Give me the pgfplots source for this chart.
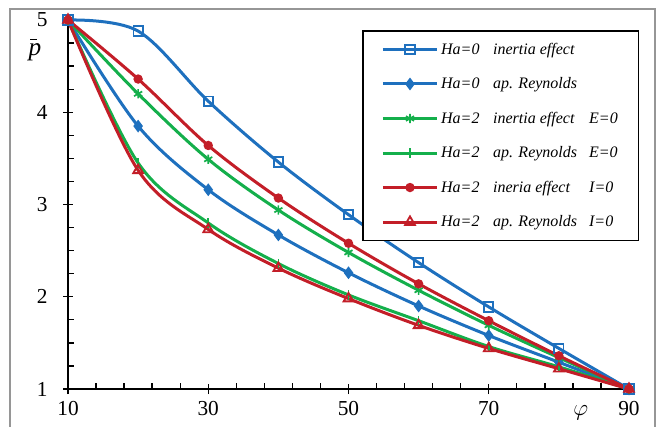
\documentclass[border=0pt]{standalone}
\usepackage{fontspec}
\setmainfont{Liberation Serif}
\usepackage{pgfplots}
\pgfplotsset{compat=1.18}
\definecolor{cblue}{RGB}{30,112,190}
\definecolor{cgreen}{RGB}{20,175,75}
\definecolor{cred}{RGB}{195,30,40}
\definecolor{frame}{RGB}{150,150,150}
\newcommand{\lent}[3]{\makebox[39pt][l]{#1}\makebox[72pt][l]{#2}\makebox[21pt][l]{#3}}
\begin{document}
\begin{tikzpicture}
\path[use as bounding box] (0,0) rectangle (492pt,319.5pt);
\draw[frame, line width=1.5pt] (7.5pt,-5pt) -- (7.5pt,312.75pt) -- (491.25pt,312.75pt) -- (491.25pt,-5pt);
\begin{axis}[
  at={(51pt,27.75pt)}, anchor=south west,
  scale only axis, width=420.75pt, height=276.75pt,
  xmin=10, xmax=90, ymin=1, ymax=5,
  axis lines=left, axis line style={-, line width=1.2pt, black},
  xtick={10,30,50,70,90}, ytick={1,2,3,4,5},
  minor x tick num=4, minor y tick num=3,
  tick align=center,
  major tick length=7.5pt, minor tick length=4.5pt,
  every tick/.style={black, line width=1pt},
  minor x tick style={yshift=2.25pt},
  minor y tick style={xshift=2.25pt},
  /pgf/number format/assume math mode=true,
  tick label style={font=\fontsize{16}{18}\selectfont},
  xticklabel style={yshift=-2pt},
  yticklabel style={xshift=-8pt},
  clip=false,
  legend style={at={(0.524,0.973)}, anchor=north west, draw=black, line width=1.3pt,
    font=\itshape\fontsize{12}{14}\selectfont, row sep=12pt, inner xsep=14pt, inner ysep=7pt},
  legend cell align=left,
  legend image code/.code={\draw[line width=2.25pt, mark repeat=2,mark phase=2] plot coordinates {(0pt,0pt)(20.25pt,0pt)(40.5pt,0pt)};},
  every axis plot/.append style={line width=2.25pt, smooth, tension=0.55},
]
\addplot[cblue, mark=square, mark size=3.5pt, mark options={fill=white, line width=1.4pt}] coordinates {
(10,5)(20,4.88)(30,4.12)(40,3.46)(50,2.89)(60,2.37)(70,1.89)(80,1.44)(90,1.0)};
\addlegendentry{\lent{Ha=0}{inertia effect}{}}
\addplot[cblue, mark=diamond*, mark size=4pt, mark options={line width=1pt}] coordinates {
(10,5)(20,3.85)(30,3.16)(40,2.67)(50,2.26)(60,1.90)(70,1.58)(80,1.29)(90,1)};
\addlegendentry{\lent{Ha=0}{ap. Reynolds}{}}
\addplot[cgreen, mark=asterisk, mark size=3.5pt, mark options={line width=1.3pt}] coordinates {
(10,5)(20,4.20)(30,3.49)(40,2.94)(50,2.48)(60,2.07)(70,1.69)(80,1.34)(90,1)};
\addlegendentry{\lent{Ha=2}{inertia effect}{E=0}}
\addplot[cgreen, mark=|, mark size=3.5pt, mark options={line width=1.3pt}] coordinates {
(10,5)(20,3.45)(30,2.80)(40,2.36)(50,2.02)(60,1.74)(70,1.46)(80,1.24)(90,1)};
\addlegendentry{\lent{Ha=2}{ap. Reynolds}{E=0}}
\addplot[cred, mark=*, mark size=3pt, mark options={line width=1pt}] coordinates {
(10,5)(20,4.36)(30,3.64)(40,3.07)(50,2.58)(60,2.14)(70,1.74)(80,1.36)(90,1)};
\addlegendentry{\lent{Ha=2}{ineria effect}{I=0}}
\addplot[cred, mark=triangle, mark size=4.2pt, mark options={fill=white, line width=1.4pt}] coordinates {
(10,5)(20,3.37)(30,2.73)(40,2.31)(50,1.98)(60,1.69)(70,1.44)(80,1.22)(90,1)};
\addlegendentry{\lent{Ha=2}{ap. Reynolds}{I=0}}
\node[inner sep=0pt, font=\fontsize{19}{21}\selectfont\itshape] at (rel axis cs:-0.059,0.92) {\rlap{\hspace{1.2pt}\rule[11.5pt]{4.8pt}{0.9pt}}p};
\node[inner sep=0pt, font=\fontsize{18}{20}\selectfont] at (rel axis cs:0.914,-0.065) {$\varphi$};
\end{axis}
\end{tikzpicture}
\end{document}
